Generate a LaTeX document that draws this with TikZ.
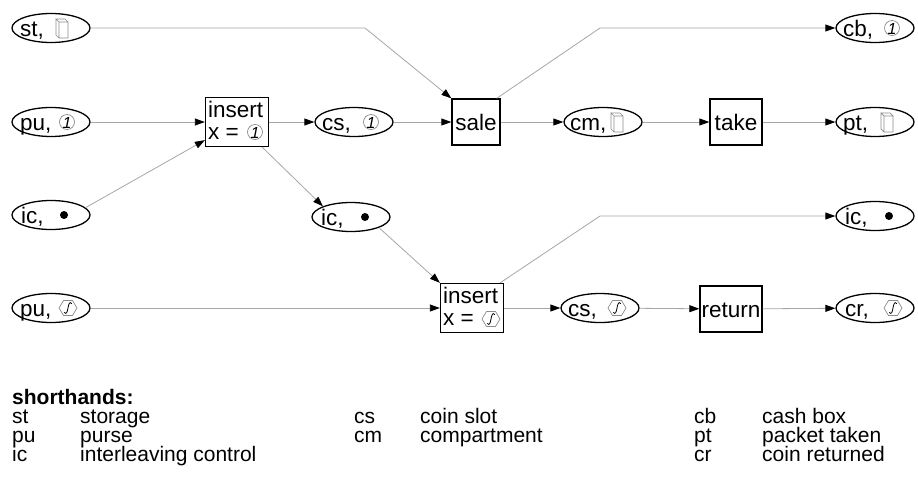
\documentclass[tikz,border=0pt]{standalone}
\usepackage{fontspec}
\setmainfont{Liberation Sans}
\usetikzlibrary{arrows.meta,shapes.geometric,calc}
\begin{document}
\begin{tikzpicture}[x=1pt,y=-1pt,
  place/.style={draw=black,line width=1.3pt,ellipse,minimum width=78pt,minimum height=29pt,inner sep=0pt,fill=white},
  trans/.style={draw=black,line width=1.3pt,rectangle,inner sep=0pt,fill=white},
  lbl/.style={anchor=base west,inner sep=0pt,font=\fontsize{22.5}{24}\selectfont},
  arc/.style={draw=black!35,line width=0.8pt,-{Triangle[length=10pt,width=7pt,color=black,fill=black]}},
  legend/.style={anchor=base west,inner sep=0pt,font=\fontsize{21}{22}\selectfont},
  icon/.style={draw=black!45,line width=0.7pt},
  coinpic/.pic={\draw[icon,fill=white] (0,0) circle[radius=7.5pt]; \node[inner sep=0pt,font=\fontsize{16}{16}\itshape\selectfont] at (0,0.5) {1};},
  fakepic/.pic={\draw[icon,fill=white] (-9,0)--(-4.5,-7.5)--(4.5,-7.5)--(9,0)--(4.5,7.5)--(-4.5,7.5)--cycle;
     \draw[black,line width=0.8pt,line cap=round] (-3.5,4.5) .. controls (-2,6.5) and (-0.8,5) .. (0,0) .. controls (0.8,-5) and (2,-6.5) .. (3.5,-4.5);},
  packetpic/.pic={\draw[icon] (-3,-7) rectangle (6,9) (-3,-7)--(-6,-10)--(3,-10)--(6,-7) (-6,-10)--(-6,6)--(-3,9);},
  tokenpic/.pic={\fill[black] (0,0) circle[radius=4pt];},
]
\useasboundingbox (0,0) rectangle (918,480);
% places
\node[place] (st) at (51,28) {};
\node[lbl] (stt) at (20,36) {st,}; \pic at (62,29) {packetpic};
\node[place] (pu1) at (51,122) {};
\node[lbl] (pu1t) at (20,130) {pu,}; \pic at (67,122) {coinpic};
\node[place] (icL) at (51,215) {};
\node[lbl] (icLt) at (21,223) {ic,}; \pic at (64,215) {tokenpic};
\node[place] (puf) at (51,308) {};
\node[lbl] (puft) at (20,316) {pu,}; \pic at (68,308) {fakepic};
\node[place] (cs1) at (354,122) {};
\node[lbl] (cs1t) at (322,130) {cs,}; \pic at (371,122) {coinpic};
\node[place] (icM) at (351,217) {};
\node[lbl] (icMt) at (321,225) {ic,}; \pic at (365,217) {tokenpic};
\node[place] (cm) at (603,122) {};
\node[lbl] (cmt) at (570,130) {cm,}; \pic at (617,123) {packetpic};
\node[place] (csf) at (600,308) {};
\node[lbl] (csft) at (568,316) {cs,}; \pic at (617,308) {fakepic};
\node[place] (cb) at (875,28) {};
\node[lbl] (cbt) at (843,36) {cb,}; \pic at (892,28) {coinpic};
\node[place] (pt) at (875,122) {};
\node[lbl] (ptt) at (843,130) {pt,}; \pic at (887,123) {packetpic};
\node[place] (icR) at (875,216) {};
\node[lbl] (icRt) at (845,224) {ic,}; \pic at (889,216) {tokenpic};
\node[place] (cr) at (875,308) {};
\node[lbl] (crt) at (845,316) {cr,}; \pic at (893,308) {fakepic};
% transitions
\node[trans,minimum width=63pt,minimum height=49pt] (insert1) at (237,122) {};
\node[lbl] (i1a) at (208,117) {insert};
\node[lbl] (i1b) at (208,139) {x =}; \pic at (255,132) {coinpic};
\node[trans,minimum width=48pt,minimum height=46pt] (sale) at (476,122) {};
\node[lbl,anchor=base] (salet) at (476,130) {sale};
\node[trans,minimum width=52pt,minimum height=46pt] (take) at (736,122) {};
\node[lbl,anchor=base] (taket) at (736,130) {take};
\node[trans,minimum width=63pt,minimum height=49pt] (insert2) at (472,308) {};
\node[lbl] (i2a) at (443,303) {insert};
\node[lbl] (i2b) at (443,325) {x =}; \pic at (491,319) {fakepic};
\node[trans,minimum width=62pt,minimum height=46pt] (return) at (731,309) {};
\node[lbl,anchor=base] (returnt) at (731,317) {return};
% bends
\coordinate (b1) at (365,28);
\coordinate (b2) at (600,28);
\coordinate (b3) at (600,216);
% arcs
\draw[arc] (st.east) -- (b1) -- (sale.north west);
\draw[arc] (pu1) -- (insert1);
\draw[arc] (icL.12) -- ($(insert1.south west)+(0,-7)$);
\draw[arc] (insert1) -- (cs1);
\draw[arc] ($(insert1.south east)+(-7,0)$) -- (icM.north west);
\draw[arc] (cs1) -- (sale);
\draw[arc] (sale) -- (cm);
\draw[arc] ($(sale.north east)+(-4,0)$) -- (b2) -- (cb.west);
\draw[arc] (cm) -- (take);
\draw[arc] (take) -- (pt);
\draw[arc] (icM.south east) -- (insert2.north west);
\draw[arc] (puf) -- (insert2);
\draw[arc] ($(insert2.north east)+(-4,0)$) -- (b3) -- (icR.west);
\draw[arc] (insert2) -- (csf);
\draw[arc] (csf) -- (return);
\draw[arc] (return) -- (cr);
% legend
\node[legend,font=\fontsize{21}{22}\bfseries\selectfont] (lh) at (12,404) {shorthands:};
\node[legend] (l1a) at (12,423) {st};  \node[legend] (l1b) at (80,423) {storage};
\node[legend] (l2a) at (12,442) {pu};  \node[legend] (l2b) at (80,442) {purse};
\node[legend] (l3a) at (12,461) {ic};  \node[legend] (l3b) at (80,461) {interleaving control};
\node[legend] (l4a) at (354,423) {cs}; \node[legend] (l4b) at (420,423) {coin slot};
\node[legend] (l5a) at (354,442) {cm}; \node[legend] (l5b) at (420,442) {compartment};
\node[legend] (l6a) at (694,423) {cb}; \node[legend] (l6b) at (762,423) {cash box};
\node[legend] (l7a) at (694,442) {pt}; \node[legend] (l7b) at (762,442) {packet taken};
\node[legend] (l8a) at (694,461) {cr}; \node[legend] (l8b) at (762,461) {coin returned};
\end{tikzpicture}
\end{document}
